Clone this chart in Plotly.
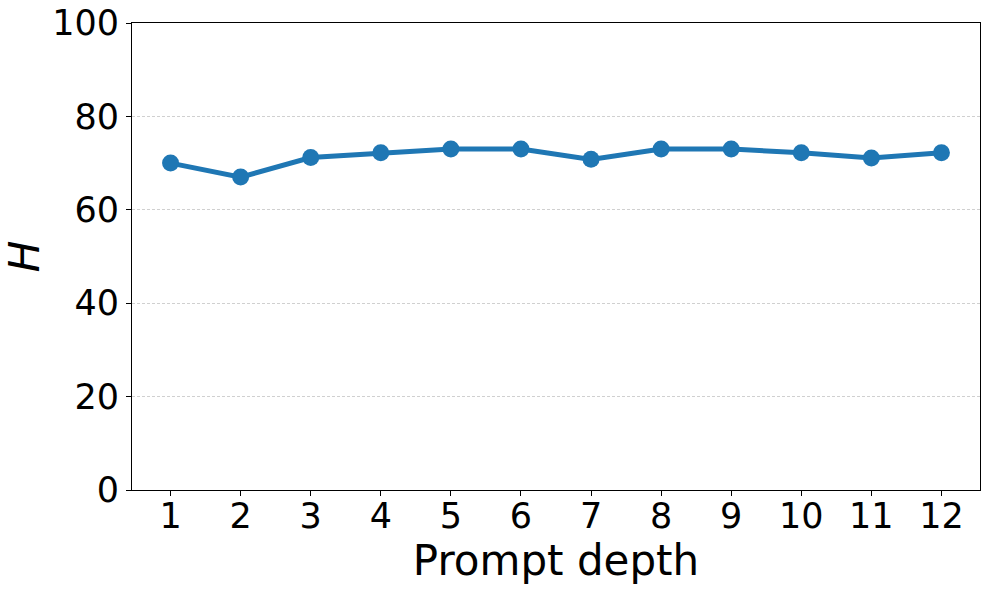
import plotly.graph_objects as go

depth = [1, 2, 3, 4, 5, 6, 7, 8, 9, 10, 11, 12]
h_score = [70.0, 67.0, 71.2, 72.2, 73.0, 73.0, 70.8, 73.0, 73.0, 72.2, 71.1, 72.2]

fig = go.Figure()
fig.add_trace(go.Scatter(
    x=depth,
    y=h_score,
    mode="lines+markers",
    line=dict(color="#1f77b4", width=5),
    marker=dict(color="#1f77b4", size=17),
    showlegend=False,
))

axis_common = dict(
    showline=True, linecolor="black", linewidth=1, mirror=True,
    ticks="outside", ticklen=5, tickwidth=1, tickcolor="black",
    tickfont=dict(family="DejaVu Sans", size=35, color="black"),
    zeroline=False, automargin=False, ticklabeloverflow="allow",
)

fig.update_xaxes(
    range=[0.45, 12.55], tickvals=depth, showgrid=False, ticklabelstandoff=-10,
    title=dict(text="Prompt depth", font=dict(family="DejaVu Sans", size=42, color="black"), standoff=0),
    **axis_common,
)
fig.update_yaxes(
    range=[0, 100], tickvals=[0, 20, 40, 60, 80, 100],
    showgrid=True, gridcolor="#d0d0d0", gridwidth=0.8, griddash="3px,2px",
    title=dict(text="<i>H</i>", font=dict(family="DejaVu Sans", size=42, color="black"), standoff=29),
    **axis_common,
)

fig.update_layout(
    width=989, height=589,
    margin=dict(l=132, r=9, t=23, b=99),
    plot_bgcolor="white", paper_bgcolor="white",
)

# drop the default 8px body margin so the figure sits at the window's corner
fig.write_html(
    "out.html",
    config={"displayModeBar": False},
    post_script="document.body.style.margin='0';",
)
